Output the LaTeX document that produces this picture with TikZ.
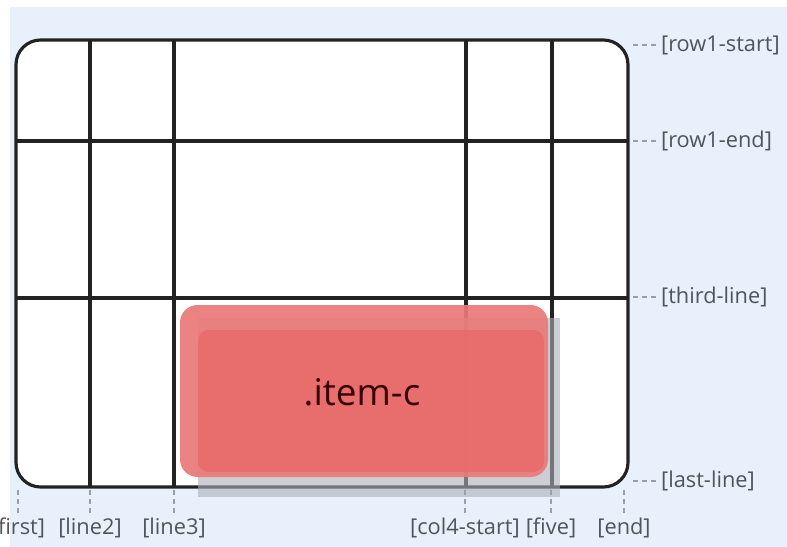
\documentclass[tikz,border=0pt]{standalone}
\usepackage{fontspec}
\setmainfont{Open Sans}
\usetikzlibrary{calc, positioning}

\definecolor{bgblue}{HTML}{E7F0FB}
\definecolor{gridgray}{HTML}{222222}
\definecolor{tickgray}{HTML}{9AA0A8}
\definecolor{tagtext}{HTML}{50555B}
\definecolor{itemred}{HTML}{E96B6B}
\definecolor{shadowgray}{HTML}{A9B0B8}

\tikzset{
  gridline/.style = {draw=gridgray, line width=1.8pt},
  tick/.style = {draw=tickgray, dashed, dash pattern=on 3pt off 2pt, line width=0.6pt},
  tag/.style = {text=tagtext, font=\fontsize{12.4}{14}\selectfont, inner sep=1pt},
}

\begin{document}
\begin{tikzpicture}[x=0.02cm, y=-0.02cm]
    \def\gridL{16}
    \def\gridR{628}
    \def\gridT{40}
    \def\gridB{487}

    \useasboundingbox (0,0) rectangle (787,547);
    \fill[white] (0,0) rectangle (787,547);
    \fill[bgblue] (10,7) rectangle (787,547);

    %grid box
    \fill[white, rounded corners=14] (\gridL,\gridT) rectangle (\gridR,\gridB);
    \foreach \x in {90,174,466,552}
        \draw[gridline] (\x,\gridT) -- (\x,\gridB);
    \foreach \y in {141,298}
        \draw[gridline] (\gridL,\y) -- (\gridR,\y);
    \draw[gridline, rounded corners=14] (\gridL,\gridT) rectangle (\gridR,\gridB);

    %item
    \fill[shadowgray, opacity=0.6] (198,318) rectangle (560,497);
    \fill[itemred!90!white, opacity=0.93, rounded corners=10] (180,305) rectangle (548,477);
    \fill[itemred, opacity=0.85, rounded corners=6] (198,330) rectangle (544,472);
    \node[font=\fontsize{21}{24}\selectfont, text=black!78!red] (itemc) at (362,392) {.item-c};

    %row labels
    \foreach \y/\name/\txt in {45/rowA/row1-start, 141/rowB/row1-end, 297/rowC/third-line, 481/rowD/last-line} {
        \node[tag, anchor=west] (\name) at (659,\y) {[\txt]};
        \coordinate (\name-end) at (633,\y);
        \draw[tick] (\name-end) -- (\name.west);
    }

    %column labels
    \foreach \x/\name/\txt in {18/colA/first, 90/colB/line2, 174/colC/line3, 465/colD/col4-start, 551/colE/five, 624/colF/end} {
        \node[tag, anchor=north] (\name) at (\x,516) {[\txt]};
        \coordinate (\name-end) at (\x,490);
        \draw[tick] (\name-end) -- (\name.north);
    }
\end{tikzpicture}
\end{document}
